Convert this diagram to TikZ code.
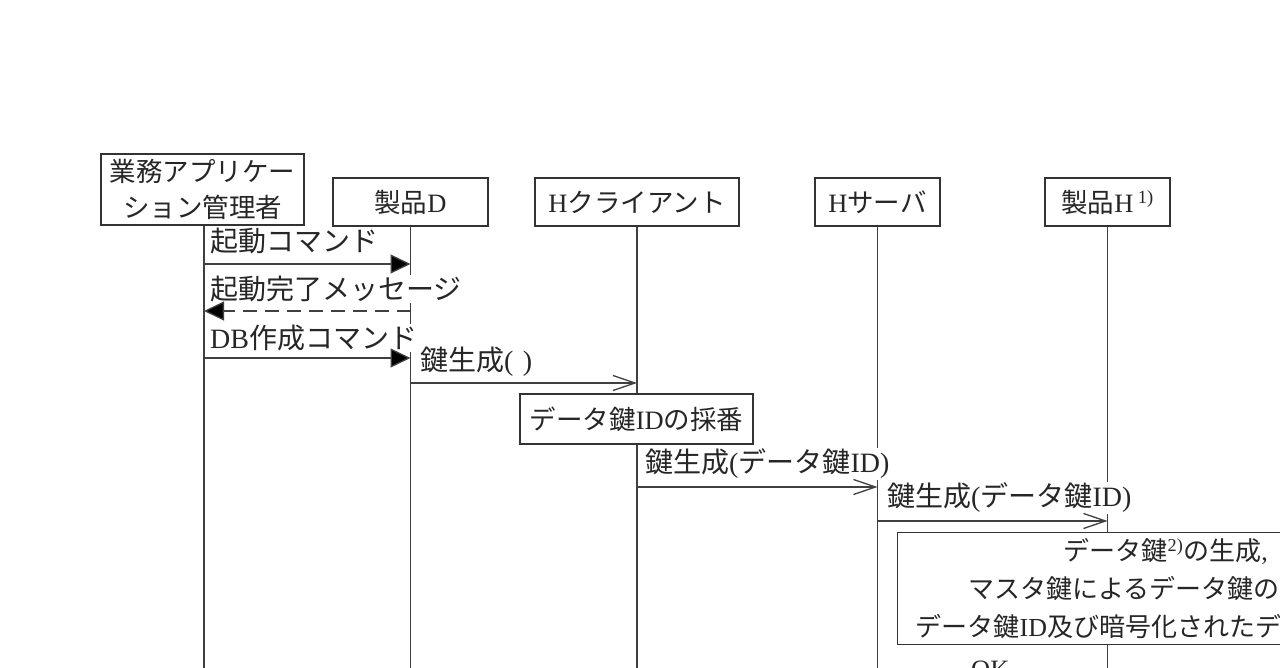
\documentclass[tikz,border=0pt]{standalone}
\usepackage{fontspec}
\setmainfont{Noto Sans CJK JP}
\newfontfamily\lat{Liberation Serif}
\usetikzlibrary{arrows.meta}
\tikzset{
  every node/.style={font=\fontsize{26.5}{36}\selectfont,text=black!85},
  lifebox/.style={draw=black!80,line width=1.3pt,fill=white,minimum height=48pt,inner sep=0pt,align=center},
  msg/.style={fill=white,inner sep=1pt,anchor=west,font=\fontsize{28}{36}\selectfont},
  lifeline/.style={draw=black!75,line width=1.3pt},
  solidcall/.style={draw=black!75,line width=1.3pt,-{Triangle[length=20pt,width=19pt,fill=black]}},
  dashreply/.style={draw=black!75,line width=1.3pt,dash pattern=on 14pt off 8pt,-{Triangle[length=20pt,width=19pt,fill=black]}},
  opencall/.style={draw=black!75,line width=1.3pt,-{Straight Barb[length=22pt,width=15pt]}}
}
\begin{document}
\begin{tikzpicture}[x=1pt,y=-1pt]
\clip (0,0) rectangle (1280,668);
\fill[white] (0,0) rectangle (1280,668);
\coordinate (bottom) at (0,668);
% heads of the lifelines
\node[lifebox,minimum width=203pt,minimum height=71pt] (app) at (202.5,189.5) {業務アプリケー\\ ション管理者};
\node[lifebox,minimum width=155pt] (prodD) at (410.5,202) {製品{\lat D}};
\node[lifebox,minimum width=204pt] (hclient) at (637,202) {{\lat H}クライアント};
\node[lifebox,minimum width=125pt] (hserver) at (877.5,202) {{\lat H}サーバ};
\node[lifebox,minimum width=125pt] (prodH) at (1107.5,202) {製品{\lat H\,\textsuperscript{1)}}};
% lifelines
\coordinate (appfoot) at ([xshift=1.5pt]app.south);
\draw[lifeline] (appfoot) -- (appfoot |- bottom);
\draw[lifeline] (prodD.south) -- (prodD.south |- bottom);
\draw[lifeline] (hclient.south) -- (hclient.south |- bottom);
\draw[lifeline] (hserver.south) -- (hserver.south |- bottom);
\draw[lifeline] (prodH.south) -- (prodH.south |- bottom);
% messages
\node[msg] (startcmd) at (209,241) {起動コマンド};
\node[msg] (startdone) at (209,289) {起動完了メッセージ};
\node[msg] (dbcmd) at (209,338) {{\lat DB}作成コマンド};
\node[msg] (keygena) at (419,362) {鍵生成{\lat(\,\,)}};
\node[msg] (keygenb) at (644,464) {鍵生成{\lat(}データ鍵{\lat ID)}};
\node[msg] (keygenc) at (886,498) {鍵生成{\lat(}データ鍵{\lat ID)}};
\draw[solidcall] (appfoot |- 0,264) -- (prodD.south |- 0,264);
\draw[dashreply] (prodD.south |- 0,311) -- (appfoot |- 0,311);
\draw[solidcall] (appfoot |- 0,358) -- (prodD.south |- 0,358);
\draw[opencall] (prodD.south |- 0,383) -- (hclient.south |- 0,383);
\draw[opencall] (hclient.south |- 0,487) -- (hserver.south |- 0,487);
\draw[opencall] (hserver.south |- 0,521) -- (prodH.south |- 0,521);
% process boxes
\node[lifebox,minimum width=233pt,minimum height=50pt] (numbering) at (636.5,419) {データ鍵{\lat ID}の採番};
\node[lifebox,anchor=north west,minimum width=420pt,minimum height=112pt,align=left,text width=420pt,font=\fontsize{26}{38}\selectfont] (datakey) at (897,532)
  {\hspace*{166pt}データ鍵{\lat\textsuperscript{2)}}の生成{\lat ,}\\ \hspace*{71pt}マスタ鍵によるデータ鍵の\\ \hspace*{18pt}データ鍵{\lat ID}及び暗号化されたデ};
\node[anchor=west,inner sep=0pt] (okmsg) at (971,670) {\lat OK};
\end{tikzpicture}
\end{document}
